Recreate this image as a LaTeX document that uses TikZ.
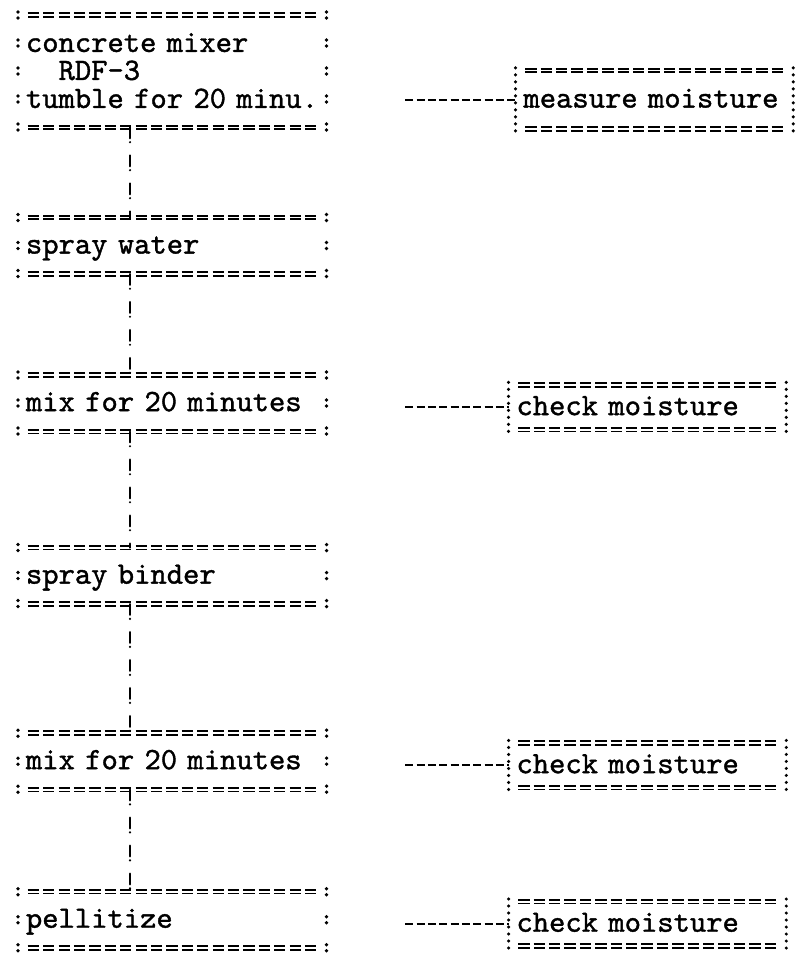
\documentclass[tikz,border=0pt]{standalone}
\usepackage{fontspec}
\setmonofont{lmmono10-regular.otf}[FakeBold=1.2]
\usetikzlibrary{positioning}

\begin{document}
\begin{tikzpicture}[
    x=0.75pt, y=-0.75pt,
    font=\fontsize{23.3pt}{21pt}\selectfont\ttfamily,
    node distance=67.5pt,
    stage/.style={align=left,text width=219.45pt,inner xsep=5.775pt,inner ysep=0pt,
      minimum height=42pt,text height=14pt,text depth=2.3pt},
    probe/.style={align=left,text width=196.35pt,inner xsep=5.775pt,inner ysep=0pt,
      minimum height=33pt,text height=14pt,text depth=2.3pt},
    eqline/.style={double,double distance=1.4pt,line width=1.4pt,dash pattern=on 8.5pt off 3.05pt},
    colon/.style={line width=2.8pt,line cap=round,dash pattern=on 0pt off 4.5pt on 0pt off 16.5pt},
    dots/.style={line width=2.6pt,line cap=round,dash pattern=on 0pt off 5.25pt},
    bang/.style={line width=1.8pt,line cap=round,dash pattern=on 8pt off 3pt on 0pt off 10pt},
    hyph/.style={line width=1.5pt,dash pattern=on 6pt off 2.5pt}
  ]
    \useasboundingbox (0,0) rectangle (799,956);
    % process steps
    \node[stage,minimum height=84pt,text depth=43pt,anchor=north west] (mixer) at (18,15)
      {concrete mixer\\\hspace*{1.05em}RDF-3\\\mbox{tumble for 20 minu.}};
    \node[stage,below=of mixer] (spray) {spray water};
    \node[stage,below=75.75pt of spray] (mixa) {mix for 20 minutes};
    \node[stage,below=87pt of mixa] (binder) {spray binder};
    \node[stage,below=96.75pt of binder] (mixb) {mix for 20 minutes};
    \node[stage,below=76.5pt of mixb] (pellet) {pellitize};
    % checks
    \node[probe,minimum height=43.5pt,right=141.75pt of mixer,yshift=-21.4pt] (measure) {measure moisture};
    \node[probe,right=136.5pt of mixa,yshift=-3pt] (checka) {check moisture};
    \node[probe,right=136.5pt of mixb,yshift=-3pt] (checkb) {check moisture};
    \node[probe,right=136.5pt of pellet,yshift=-3pt] (checkc) {check moisture};
    % typed borders
    \foreach \n in {mixer,spray,mixa,binder,mixb,pellet,measure,checka,checkb,checkc} {
      \draw[eqline] ([xshift=7.3pt]\n.north west) -- ([xshift=-7.3pt]\n.north east);
      \draw[eqline] ([xshift=7.3pt]\n.south west) -- ([xshift=-7.3pt]\n.south east);
    }
    \foreach \n in {mixer,spray,mixa,binder,mixb,pellet} {
      \draw[colon] ([yshift=2.25pt]\n.north west) -- ([yshift=-2.5pt]\n.south west);
      \draw[colon] ([yshift=2.25pt]\n.north east) -- ([yshift=-2.5pt]\n.south east);
    }
    \foreach \n in {measure,checka,checkb,checkc} {
      \draw[dots] ([yshift=2pt]\n.north west) -- ([yshift=-2pt]\n.south west);
      \draw[dots] ([yshift=2pt]\n.north east) -- ([yshift=-2pt]\n.south east);
    }
    % connectors
    \foreach \a/\b in {mixer/spray,spray/mixa,mixa/binder,binder/mixb,mixb/pellet}
      \draw[bang] ([xshift=84pt]\a.south west) -- ([xshift=84pt]\b.north west);
    \foreach \a/\b in {mixer/measure,mixa/checka,mixb/checkb,pellet/checkc}
      \draw[hyph] ([xshift=59pt]\a.east |- \b.west) -- (\b.west);
\end{tikzpicture}
\end{document}
